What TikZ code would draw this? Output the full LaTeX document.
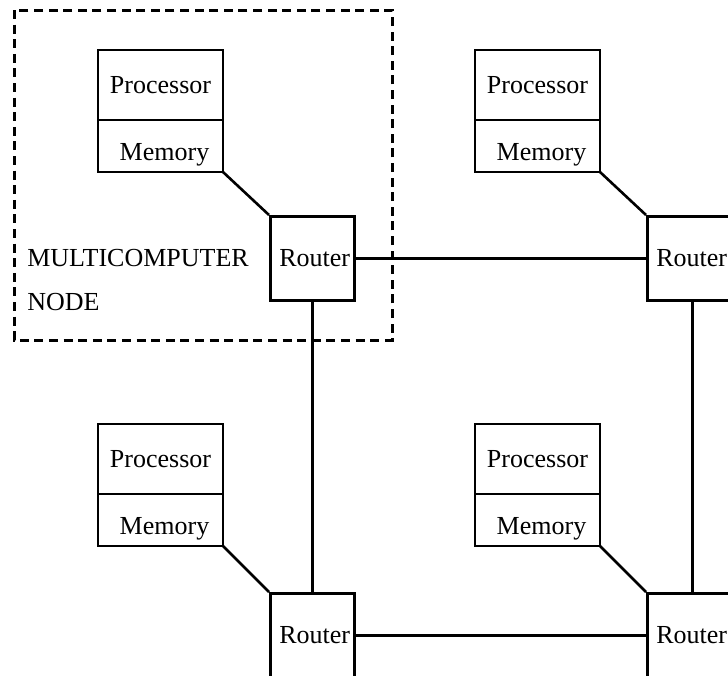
\documentclass[tikz,border=0pt]{standalone}
\usepackage{fontspec}
\setmainfont{Liberation Serif}
\begin{document}
\begin{tikzpicture}[x=0.5pt,y=-0.5pt,
  line width=1.3pt,
  every node/.style={font=\fontsize{13}{15}\selectfont},
  procbox/.style={draw,anchor=north west,minimum width=62.5pt,minimum height=35pt,inner sep=0pt,outer sep=0pt},
  membox/.style={draw,anchor=north,minimum width=62.5pt,minimum height=26pt,inner sep=0pt,outer sep=0pt,text height=14pt,text depth=0pt},
  routerbox/.style={draw,anchor=north west,minimum width=42pt,minimum height=42pt,inner xsep=4.5pt,inner ysep=0pt,text width=33pt,align=left},
  link/.style={line width=1.3pt},
  nodebox/.style={dash pattern=on 4.5pt off 2.8pt,line width=1.5pt}]
\useasboundingbox (0,0) rectangle (728,675);
\clip (0,0) rectangle (728,675);
% dashed multicomputer node
\draw[nodebox] (14,10) rectangle (392,340);
\node[anchor=west,inner sep=0pt] (mc) at (26,258) {MULTICOMPUTER};
\node[anchor=west,inner sep=0pt] (nd) at (26,302) {NODE};
% top-left
\node[procbox] (p1) at (98,50) {Processor};
\node[membox] (m1) at (p1.south) {\hspace*{4pt}Memory};
\node[routerbox] (r1) at (269,215) {Router};
% top-right
\node[procbox] (p2) at (475,50) {Processor};
\node[membox] (m2) at (p2.south) {\hspace*{4pt}Memory};
\node[routerbox] (r2) at (646,215) {Router};
% bottom-left
\node[procbox] (p3) at (98,424) {Processor};
\node[membox] (m3) at (p3.south) {\hspace*{4pt}Memory};
\node[routerbox] (r3) at (269,592) {Router};
% bottom-right
\node[procbox] (p4) at (475,424) {Processor};
\node[membox] (m4) at (p4.south) {\hspace*{4pt}Memory};
\node[routerbox] (r4) at (646,592) {Router};
% connections
\draw[link] (m1.south east) -- (r1.north west);
\draw[link] (m2.south east) -- (r2.north west);
\draw[link] (m3.south east) -- (r3.north west);
\draw[link] (m4.south east) -- (r4.north west);
\draw[link] (r1.east) -- (r2.west);
\draw[link] (r3.east) -- (r4.west);
\draw[link] (r1.south) -- (r3.north);
\draw[link] ([xshift=1.5pt]r2.south) -- ([xshift=1.5pt]r4.north);
\end{tikzpicture}
\end{document}
